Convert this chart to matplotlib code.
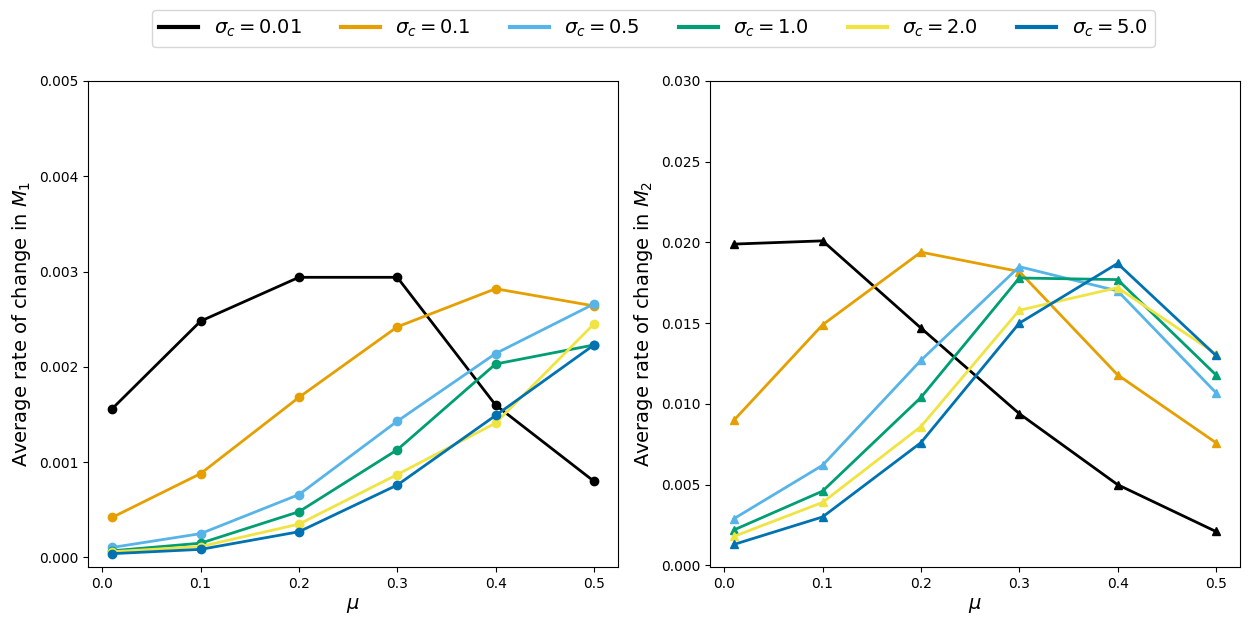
import matplotlib
matplotlib.use("Agg")
import matplotlib.pyplot as plt

mu = [0.01, 0.1, 0.2, 0.3, 0.4, 0.5]
sigmas = ["0.01", "0.1", "0.5", "1.0", "2.0", "5.0"]
colors = ["#000000", "#E69F00", "#56B4E9", "#009E73", "#F0E442", "#0072B2"]

m1 = [
    [0.00156, 0.00248, 0.00294, 0.00294, 0.00160, 0.00080],
    [0.00042, 0.00088, 0.00168, 0.00242, 0.00282, 0.00264],
    [0.000105, 0.00025, 0.00066, 0.00143, 0.00214, 0.00266],
    [0.00007, 0.00015, 0.00048, 0.00113, 0.00203, 0.00223],
    [0.00006, 0.000115, 0.00035, 0.00087, 0.00141, 0.00245],
    [0.00004, 0.000085, 0.00027, 0.00076, 0.00149, 0.00223],
]
m2 = [
    [0.0199, 0.0201, 0.0147, 0.0094, 0.0050, 0.0021],
    [0.0090, 0.0149, 0.0194, 0.0182, 0.0118, 0.0076],
    [0.0029, 0.0062, 0.0127, 0.0185, 0.0170, 0.0107],
    [0.0022, 0.0046, 0.0104, 0.0178, 0.0177, 0.0118],
    [0.0018, 0.0039, 0.0086, 0.0158, 0.0172, 0.0131],
    [0.0013, 0.0030, 0.0076, 0.0150, 0.0187, 0.0130],
]

fig = plt.figure(figsize=(12.5, 6.25), dpi=100)
ax1 = fig.add_axes([88/1250, 1-567/625, 530/1250, 486/625])
ax2 = fig.add_axes([710/1250, 1-567/625, 530/1250, 486/625])

handles = []
for s, c, y1, y2 in zip(sigmas, colors, m1, m2):
    h, = ax1.plot(mu, y1, marker="o", color=c, lw=2, label=rf"$\sigma_c = {s}$")
    ax2.plot(mu, y2, marker="^", color=c, lw=2)
    handles.append(h)

ax1.set_ylim(-0.0001, 0.005)
ax1.set_yticks([0.0, 0.001, 0.002, 0.003, 0.004, 0.005])
ax2.set_ylim(-0.0001, 0.030)
ax2.set_yticks([0.0, 0.005, 0.010, 0.015, 0.020, 0.025, 0.030])
for ax in (ax1, ax2):
    ax.set_xticks([0.0, 0.1, 0.2, 0.3, 0.4, 0.5])
    ax.set_xlabel(r"$\mu$", fontsize=14)
ax1.set_yticklabels([f"{v:.3f}" for v in ax1.get_yticks()])
ax2.set_yticklabels([f"{v:.3f}" for v in ax2.get_yticks()])
ax1.set_ylabel(r"Average rate of change in $M_1$", fontsize=14)
ax2.set_ylabel(r"Average rate of change in $M_2$", fontsize=14)

leg = fig.legend(handles=handles, loc="upper center", ncol=6, fontsize=14,
                 bbox_to_anchor=(653.5/1250, 1.0), handlelength=2)
for l in leg.get_lines():
    l.set_marker("")
    l.set_linewidth(3)

fig.savefig("out.png", dpi=100)
